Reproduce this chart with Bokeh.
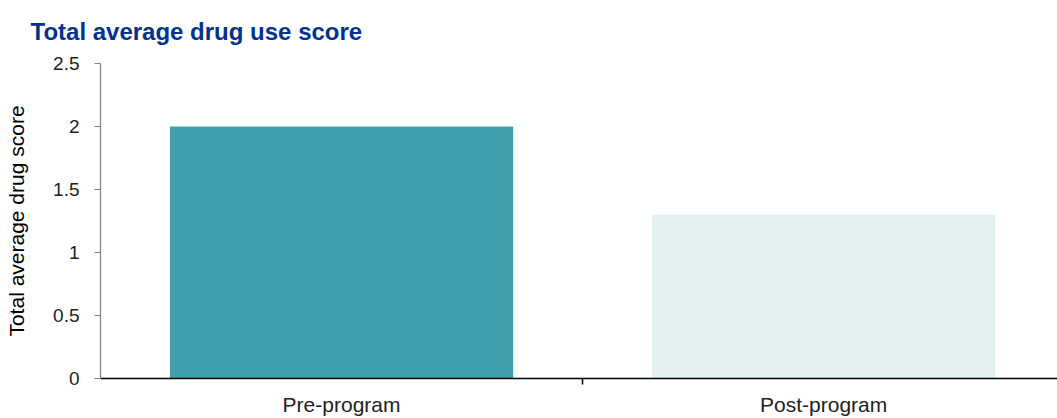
from bokeh.plotting import figure
from bokeh.models import ColumnDataSource, Range1d, FixedTicker, CustomJSTickFormatter, Title
from bokeh.embed import file_html
from bokeh.resources import INLINE

categories = ["Pre-program", "Post-program"]
scores = [2.0, 1.3]
bar_colors = ["#419EAE", "#E2F0F1"]
y_ticks = [0, 0.5, 1, 1.5, 2, 2.5]

title_text = "Total average drug use score"
y_label = "Total average drug score"

FONT = "Liberation Sans"

xpos = [i + 0.5 for i in range(len(categories))]
source = ColumnDataSource(dict(x=xpos, top=scores, color=bar_colors, cat=categories))

p = figure(width=1057, height=418, output_backend="svg", toolbar_location=None,
           x_range=Range1d(0, 1.985), y_range=Range1d(0, 2.5),
           min_border_left=100, min_border_right=0, min_border_top=63, min_border_bottom=38)

p.vbar(x="x", top="top", width=0.712, bottom=0, color="color", line_color=None, source=source)

t = Title(text=title_text, text_font=FONT, text_font_size="24px", text_font_style="bold",
          text_color="#00338D", align="left", vertical_align="top", offset=-70, standoff=33)
p.add_layout(t, "above")

p.grid.visible = False
p.outline_line_color = None
p.background_fill_color = "white"
p.border_fill_color = "white"

# x axis
xa = p.xaxis[0]
xa.ticker = FixedTicker(ticks=xpos, minor_ticks=[1])
xa.major_label_overrides = {xpos[i]: categories[i] for i in range(len(categories))}
xa.major_tick_out = 0
xa.major_tick_in = 0
xa.minor_tick_out = 6
xa.minor_tick_in = 0
xa.minor_tick_line_color = "black"
xa.minor_tick_line_width = 1.5
xa.axis_line_color = "black"
xa.axis_line_width = 1.5
xa.major_label_text_font = FONT
xa.major_label_text_font_size = "21px"
xa.major_label_text_color = "#222222"
xa.major_label_standoff = 8

# y axis
ya = p.yaxis[0]
ya.ticker = FixedTicker(ticks=y_ticks, minor_ticks=[])
ya.formatter = CustomJSTickFormatter(code="return tick.toString();")
ya.axis_line_color = "#808080"
ya.axis_line_width = 1.2
ya.major_tick_line_color = "#808080"
ya.major_tick_out = 6
ya.major_tick_in = 0
ya.minor_tick_out = 0
ya.minor_tick_in = 0
ya.major_label_text_font = FONT
ya.major_label_text_font_size = "19px"
ya.major_label_text_color = "#222222"
ya.major_label_standoff = 15
ya.axis_label = y_label
ya.axis_label_text_font = FONT
ya.axis_label_text_font_size = "21px"
ya.axis_label_text_font_style = "normal"
ya.axis_label_text_color = "#000000"
ya.axis_label_standoff = 22

open("out.html", "w").write(file_html(p, INLINE))
